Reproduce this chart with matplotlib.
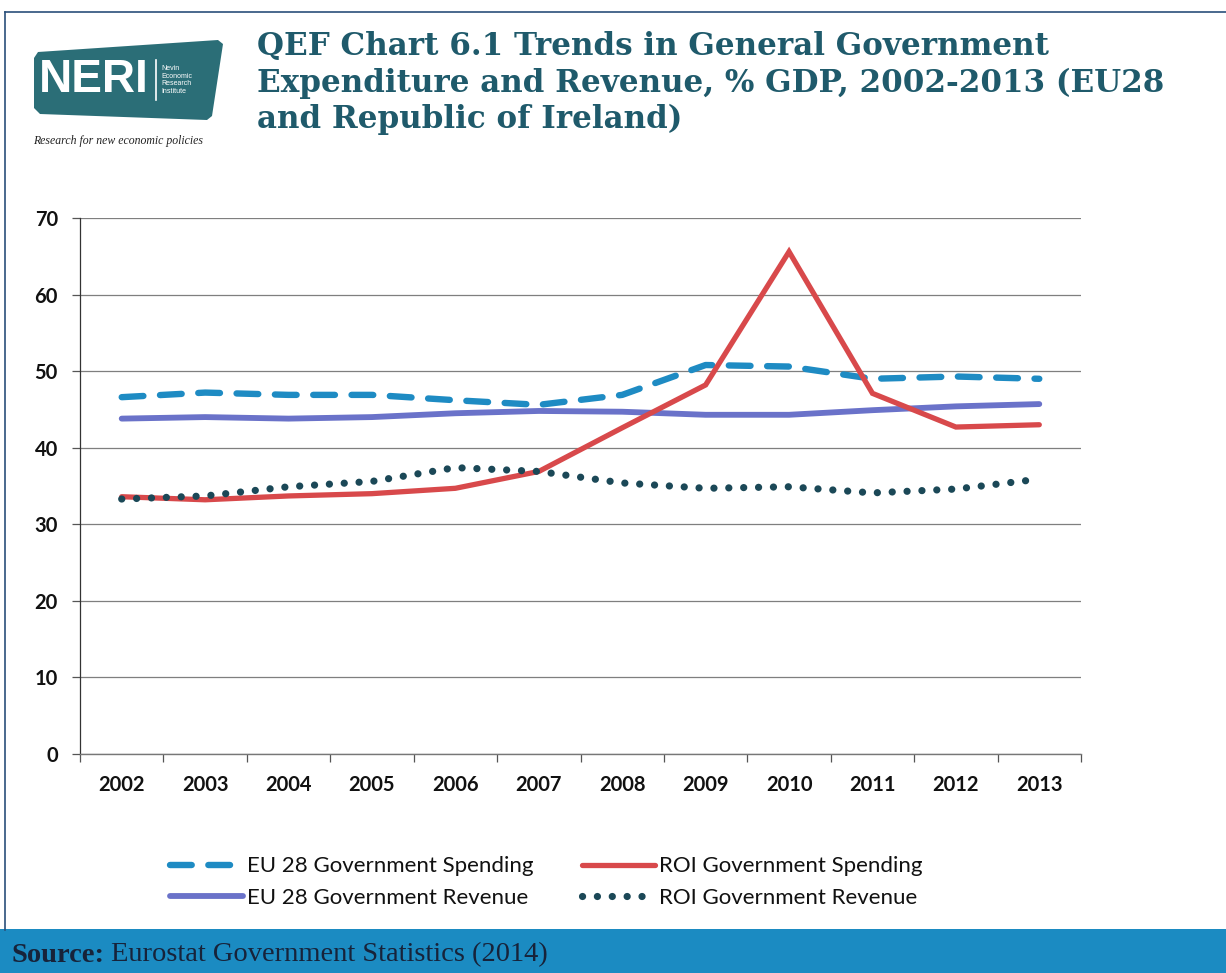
import matplotlib
matplotlib.use("Agg")
import matplotlib.pyplot as plt
from matplotlib.patches import Polygon, Rectangle
from matplotlib.lines import Line2D

# ---- data (% of GDP) ----
years = ["2002", "2003", "2004", "2005", "2006", "2007",
         "2008", "2009", "2010", "2011", "2012", "2013"]
eu_spending = [46.6, 47.2, 46.9, 46.9, 46.2, 45.6, 46.9, 50.8, 50.6, 49.0, 49.3, 49.0]
roi_spending = [33.6, 33.2, 33.7, 34.0, 34.7, 36.9, 42.6, 48.2, 65.6, 47.1, 42.7, 43.0]
eu_revenue = [43.8, 44.0, 43.8, 44.0, 44.5, 44.8, 44.7, 44.3, 44.3, 44.9, 45.4, 45.7]
roi_revenue = [33.3, 33.7, 34.9, 35.6, 37.4, 36.9, 35.4, 34.7, 34.9, 34.1, 34.6, 35.9]
y_ticks = [0, 10, 20, 30, 40, 50, 60, 70]

W, H = 1226, 973
fig = plt.figure(figsize=(W / 100, H / 100), dpi=100)
fig.patch.set_facecolor("white")

def fx(px):
    return px / W

def fy(py):
    return 1 - py / H

TEAL = "#1f5a6b"

# ---- frame around the panel ----
fig.add_artist(Line2D([fx(5), fx(5)], [fy(12), fy(930)], color="#2a4f7a", lw=1.2))
fig.add_artist(Line2D([fx(5), fx(1226)], [fy(12), fy(12)], color="#2a4f7a", lw=1.2))

# ---- logo ----
logo = Polygon([(fx(34), fy(58)), (fx(38), fy(52)), (fx(218), fy(40)), (fx(223), fy(44)),
                (fx(212), fy(116)), (fx(207), fy(120)), (fx(40), fy(114)), (fx(34), fy(108))],
               closed=True, transform=fig.transFigure, facecolor="#2b6e77",
               edgecolor="none")
fig.add_artist(logo)
fig.text(fx(39), fy(80), "NERI", color="white", fontsize=33, fontweight="bold",
         family="Liberation Sans", va="center", ha="left")
fig.add_artist(Line2D([fx(156), fx(156)], [fy(60), fy(100)], color="white", lw=1.2))
fig.text(fx(161), fy(80), "Nevin\nEconomic\nResearch\nInstitute", color="white",
         fontsize=5, family="Liberation Sans", va="center", ha="left", linespacing=1.1)
fig.text(fx(33), fy(141), "Research for new economic policies", color="#222222",
         fontsize=8.5, style="italic", family="Liberation Serif", va="center", ha="left")

# ---- title ----
title_lines = ["QEF Chart 6.1 Trends in General Government",
               "Expenditure and Revenue, % GDP, 2002-2013 (EU28",
               "and Republic of Ireland)"]
for i, line in enumerate(title_lines):
    fig.text(fx(257), fy(47 + 36 * i), line, color=TEAL, fontsize=22.3,
             fontweight="bold", family="DejaVu Serif", va="center", ha="left")

# ---- chart ----
ax = fig.add_axes([fx(80), fy(754), fx(1081) - fx(80), fy(218) - fy(754)])
x = list(range(len(years)))

ax.plot(x, eu_spending, color="#1e8bc3", lw=4.6, dashes=(3.4, 2.6),
        dash_capstyle="round", solid_capstyle="round", zorder=4,
        label="EU 28 Government Spending")
ax.plot(x, eu_revenue, color="#6a72c9", lw=4.2, solid_capstyle="round", zorder=3,
        label="EU 28 Government Revenue")
ax.plot(x, roi_spending, color="#d8494b", lw=3.8, solid_capstyle="round",
        solid_joinstyle="miter", zorder=5, label="ROI Government Spending")
ax.plot(x, roi_revenue, color="#1b4857", lw=5.2, dashes=(0.01, 2.05),
        dash_capstyle="round", zorder=6, label="ROI Government Revenue")

ax.set_xlim(-0.5, len(years) - 0.5)
ax.set_ylim(0, 70)
ax.set_yticks(y_ticks)
ax.set_yticklabels([str(v) for v in y_ticks])
ax.yaxis.grid(True, color="#7f7f7f", lw=0.9)
ax.set_axisbelow(True)

# category boundaries carry the tick marks, labels sit at the centres
ax.set_xticks([i - 0.5 for i in range(len(years) + 1)])
ax.set_xticklabels([])
ax.set_xticks(x, minor=True)
ax.set_xticklabels(years, minor=True)
ax.tick_params(axis="x", which="major", length=6, width=0.9, color="#555555", direction="out")
ax.tick_params(axis="x", which="minor", length=0, pad=15)
ax.tick_params(axis="y", length=6, width=0.9, color="#555555", pad=10)

for lab in ax.get_xticklabels(minor=True) + ax.get_yticklabels():
    lab.set_family("Lato")
    lab.set_fontweight("bold")
    lab.set_fontsize(14.5)
    lab.set_color("#111111")

for side in ("top", "right"):
    ax.spines[side].set_visible(False)
ax.spines["left"].set_color("#333333")
ax.spines["left"].set_linewidth(0.9)
ax.spines["bottom"].set_color("#777777")
ax.spines["bottom"].set_linewidth(1.0)

# ---- legend ----
handles, labels = ax.get_legend_handles_labels()
leg = fig.legend(handles, labels,
                 loc="center left", bbox_to_anchor=(fx(150), fy(882)), ncol=2,
                 frameon=False, handlelength=3.3, handletextpad=0.15,
                 columnspacing=2.2, labelspacing=0.5,
                 prop={"family": "Lato", "size": 16})
for t in leg.get_texts():
    t.set_color("#111111")

# ---- source band ----
fig.add_artist(Rectangle((0, 0), 1, fy(929), transform=fig.transFigure,
                         facecolor="#1b8bc2", edgecolor="none"))
src = fig.text(fx(12), fy(955), "Source:", color="#17233a", fontsize=20.5,
               fontweight="bold", family="Liberation Serif", va="center", ha="left")
fig.canvas.draw()
bb = src.get_window_extent(renderer=fig.canvas.get_renderer())
fig.text(bb.x1 / W + fx(6), fy(955), "Eurostat Government Statistics (2014)",
         color="#17233a", fontsize=20.5, family="Liberation Serif",
         va="center", ha="left")

fig.savefig("out.png", dpi=100)
